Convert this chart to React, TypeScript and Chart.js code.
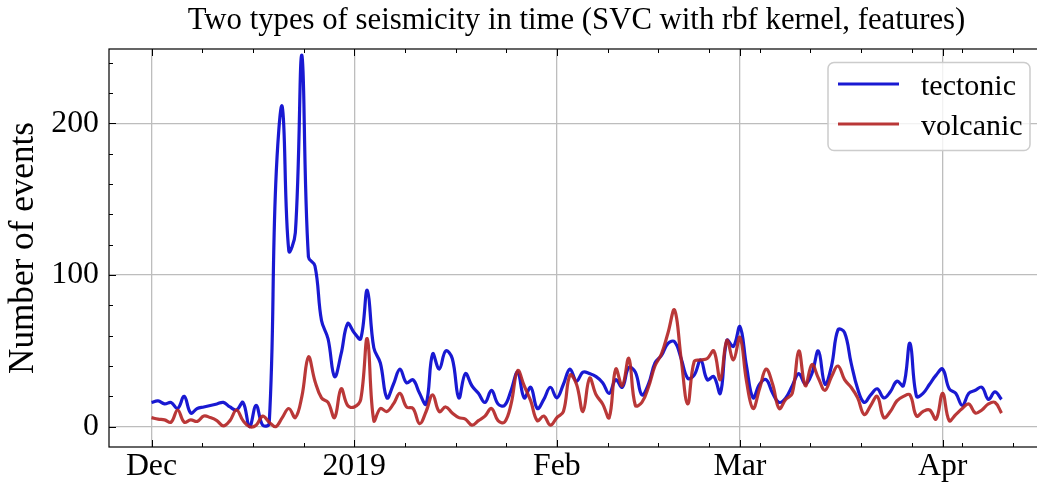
import { useEffect, useRef } from 'react';
import { Chart, registerables } from 'chart.js';

Chart.register(...registerables);

// ---- data (daily counts from 2018-12-01) ----
const startDate = '2018-12-01';
const seriesNames = ['tectonic', 'volcanic'];
const tectonic = [
  16, 17, 15, 16, 12, 20, 9, 12, 13, 14,
  15, 16, 13, 11, 16, 0, 14, 1, 2, 160,
  211, 116, 128, 245, 112, 106, 70, 58, 33, 48,
  68, 62, 58, 90, 52, 42, 19, 28, 38, 29,
  31, 22, 15, 48, 38, 50, 45, 19, 35, 27,
  22, 16, 24, 15, 14, 24, 36, 19, 26, 12,
  18, 26, 19, 28, 38, 30, 36, 35, 33, 29,
  22, 31, 26, 39, 36, 21, 28, 42, 47, 55,
  56, 45, 32, 34, 44, 31, 33, 22, 57, 53,
  66, 40, 19, 28, 31, 22, 16, 19, 27, 35,
  28, 35, 50, 28, 40, 64, 62, 42, 25, 16,
  21, 25, 19, 23, 30, 27, 55, 20, 22, 28,
  34, 38, 25, 22, 14, 22, 24, 26, 18, 23,
  18,
];
const volcanic = [
  6, 5, 4.5, 3, 11, 3, 4.5, 3.5, 7, 6,
  4, 0.5, 4, 11, 4, 0, 1, 7, 3, 0,
  6, 12, 6, 20, 46, 30, 19, 16, 6, 25,
  14, 13, 18, 58, 4, 12, 10, 15, 22, 13,
  12, 2, 10, 21, 10, 13, 9, 6, 5, 1,
  4, 7, 12, 4, 3, 15, 37, 27, 17, 4,
  7, 1, 6, 10, 34, 28, 10, 32, 21, 15,
  6, 38, 27, 45, 14, 16, 26, 40, 48, 62,
  77, 45, 15, 43, 44, 45, 50, 31, 57, 44,
  59, 30, 12, 25, 38, 28, 12, 18, 22, 50,
  27, 41, 32, 24, 33, 40, 31, 26, 19, 8,
  14, 20, 6, 10, 17, 20, 21, 7, 10, 11,
  5, 22, 4, 8, 12, 15, 9, 11, 15, 16,
  9,
];
const monthLabels = ['Dec', '2019', 'Feb', 'Mar', 'Apr'];
const monthDates = ['2018-12-01', '2019-01-01', '2019-02-01', '2019-03-01', '2019-04-01'];
const yMajorTicks = [0, 100, 200];
const titleText = 'Two types of seismicity in time (SVC with rbf kernel, features)';
const yTitleText = 'Number of events';

const DAY_MS = 86400000;
const dayOf = (s: string) => Math.round((Date.parse(s) - Date.parse(startDate)) / DAY_MS);

const BLUE = 'rgba(0,0,205,0.9)';
const RED = 'rgba(178,34,34,0.9)';
const GRID = '#bdbdbd';
const FAMILY = '"Liberation Serif", "Times New Roman", serif';

function fitSize(text: string, width: number): number {
  const c = document.createElement('canvas').getContext('2d')!;
  c.font = `100px ${FAMILY}`;
  return (100 * width) / c.measureText(text).width;
}

export default function App() {
  const ref = useRef<HTMLCanvasElement>(null);

  useEffect(() => {
    const monthDays = monthDates.map(dayOf);
    const tickSize = fitSize('200', 47.7);
    const titleSize = fitSize(titleText, 778);
    const yTitleSize = fitSize(yTitleText, 252);
    const legendSize = fitSize('tectonic', 95);
    const minorStep = 31 / 4;

    const decor = {
      id: 'decor',
      afterDraw(chart: any) {
        const { ctx, chartArea: a, scales } = chart;
        const xs = scales.x;
        const ys = scales.y;
        ctx.save();
        ctx.strokeStyle = '#000';
        ctx.lineWidth = 1;
        const vTick = (v: number, len: number) => {
          const px = Math.round(xs.getPixelForValue(v)) + 0.5;
          if (px < a.left || px > a.right) return;
          ctx.beginPath();
          ctx.moveTo(px, a.bottom);
          ctx.lineTo(px, a.bottom - len);
          ctx.moveTo(px, a.top);
          ctx.lineTo(px, a.top + len);
          ctx.stroke();
        };
        const hTick = (v: number, len: number) => {
          const py = Math.round(ys.getPixelForValue(v)) + 0.5;
          if (py < a.top || py > a.bottom) return;
          ctx.beginPath();
          ctx.moveTo(a.left, py);
          ctx.lineTo(a.left + len, py);
          ctx.moveTo(a.right, py);
          ctx.lineTo(a.right - len, py);
          ctx.stroke();
        };
        for (let k = 0; k * minorStep <= xs.max; k++) vTick(k * minorStep, 4);
        monthDays.forEach((d) => vTick(d, 7));
        for (let v = 0; v <= ys.max; v += 20) hTick(v, 4);
        yMajorTicks.forEach((v) => hTick(v, 7));

        // frame
        ctx.lineWidth = 1.2;
        ctx.strokeRect(a.left, a.top, a.right - a.left, a.bottom - a.top);

        // title
        ctx.fillStyle = '#000';
        ctx.font = `${titleSize}px ${FAMILY}`;
        ctx.textAlign = 'center';
        ctx.textBaseline = 'alphabetic';
        ctx.fillText(titleText, (a.left + a.right) / 2, 29);

        // y title
        ctx.save();
        ctx.translate(33, (a.top + a.bottom) / 2);
        ctx.rotate(-Math.PI / 2);
        ctx.font = `${yTitleSize}px ${FAMILY}`;
        ctx.textAlign = 'center';
        ctx.fillText(yTitleText, 0, 0);
        ctx.restore();

        // legend
        const bx = 828, by = 62.5, bw = 202, bh = 88;
        ctx.beginPath();
        if (ctx.roundRect) ctx.roundRect(bx, by, bw, bh, 6);
        else ctx.rect(bx, by, bw, bh);
        ctx.fillStyle = 'rgba(255,255,255,0.8)';
        ctx.fill();
        ctx.strokeStyle = '#cccccc';
        ctx.lineWidth = 1.5;
        ctx.stroke();
        const colors = [BLUE, RED];
        seriesNames.forEach((name, i) => {
          const cy = 84 + i * 40;
          ctx.strokeStyle = colors[i];
          ctx.lineWidth = 3.2;
          ctx.beginPath();
          ctx.moveTo(838, cy);
          ctx.lineTo(899, cy);
          ctx.stroke();
          ctx.fillStyle = '#000';
          ctx.font = `${legendSize}px ${FAMILY}`;
          ctx.textAlign = 'left';
          ctx.textBaseline = 'alphabetic';
          ctx.fillText(name, 921, cy + 11);
        });
        ctx.restore();
      },
    };

    const chart = new Chart(ref.current!, {
      type: 'line',
      data: {
        datasets: [
          {
            label: seriesNames[0],
            data: tectonic.map((v, i) => ({ x: i, y: v })),
            borderColor: BLUE,
            borderWidth: 3.2,
            pointRadius: 0,
            tension: 0.4,
            fill: false,
            order: 2,
          },
          {
            label: seriesNames[1],
            data: volcanic.map((v, i) => ({ x: i, y: v })),
            borderColor: RED,
            borderWidth: 3.2,
            pointRadius: 0,
            tension: 0.4,
            fill: false,
            order: 1,
          },
        ],
      },
      options: {
        responsive: false,
        animation: false,
        devicePixelRatio: 1,
        layout: { padding: { top: 49, right: 2, left: 0, bottom: 0 } },
        plugins: {
          legend: { display: false },
          title: { display: false },
          tooltip: { enabled: false },
        },
        scales: {
          x: {
            type: 'linear',
            min: -6.5,
            max: 136.5,
            afterFit: (s: any) => {
              s.height = 36;
            },
            afterBuildTicks: (s: any) => {
              s.ticks = monthDays.map((d) => ({ value: d }));
            },
            ticks: {
              callback: (_v: any, i: number) => monthLabels[i],
              font: { family: FAMILY, size: tickSize },
              color: '#000',
              padding: 1,
              maxRotation: 0,
              autoSkip: false,
            },
            grid: { color: GRID, lineWidth: 1.3, drawTicks: false },
            border: { display: false },
          },
          y: {
            type: 'linear',
            min: -13.4,
            max: 249.1,
            afterFit: (s: any) => {
              s.width = 109;
            },
            afterBuildTicks: (s: any) => {
              s.ticks = yMajorTicks.map((v) => ({ value: v }));
            },
            ticks: {
              font: { family: FAMILY, size: tickSize },
              color: '#000',
              padding: 10,
            },
            grid: { color: GRID, lineWidth: 1.3, drawTicks: false },
            border: { display: false },
          },
        },
      },
      plugins: [decor],
    } as any);
    return () => chart.destroy();
  }, []);

  return (
    <div
      style={{
        position: 'absolute',
        left: 0,
        top: 0,
        width: 1037,
        height: 483,
        overflow: 'hidden',
        background: '#fff',
      }}
    >
      <canvas ref={ref} width={1046} height={483} style={{ display: 'block' }} />
    </div>
  );
}
